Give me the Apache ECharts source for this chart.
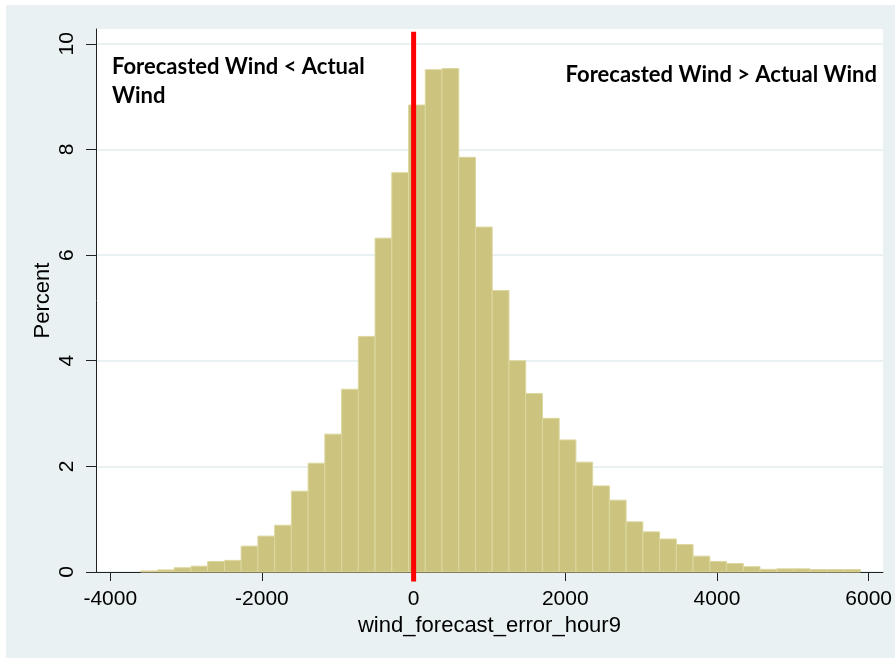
<!DOCTYPE html>
<html>
<head>
<meta charset="utf-8">
<script src="https://cdn.jsdelivr.net/npm/echarts@6/dist/echarts.min.js"></script>
<style>
  html, body { margin: 0; padding: 0; background: #ffffff; }
  #bg { position: absolute; left: 6px; top: 5px; width: 889px; height: 653px; background: #e9f1f3; }
  #chart { position: absolute; left: 0; top: 0; width: 895px; height: 658px; }
</style>
</head>
<body>
<div id="bg"></div>
<div id="chart"></div>
<script>
// Histogram of wind_forecast_error_hour9 (percent per bin)
const binStart = -3598;   // left edge of first bin
const binWidth = 220.7;   // bin width
const percent = [
  0.02, 0.04, 0.08, 0.11, 0.20, 0.22, 0.49, 0.68, 0.885, 1.53, 2.06, 2.61, 3.46, 4.46, 6.32, 7.56,
  8.84, 9.51, 9.53, 7.85, 6.53, 5.33, 4.00, 3.38, 2.91, 2.50, 2.08, 1.63, 1.36, 0.95, 0.76, 0.625,
  0.52, 0.30, 0.20, 0.16, 0.10, 0.05, 0.06, 0.06, 0.045, 0.045, 0.045
];
const xTickValues = [-4000, -2000, 0, 2000, 4000, 6000];
const yTickValues = [0, 2, 4, 6, 8, 10];
const refLineX = 0;
const leftNote = 'Forecasted Wind < Actual\nWind';
const rightNote = 'Forecasted Wind > Actual Wind';
const xTitle = 'wind_forecast_error_hour9';
const yTitle = 'Percent';

const binData = percent.map((p, i) => [binStart + i * binWidth, binStart + (i + 1) * binWidth, p]);

const chart = echarts.init(document.getElementById('chart'), null, { renderer: 'canvas' });
const axisColor = '#222222';
const labelFont = { fontFamily: 'Liberation Sans, Arial, sans-serif', fontSize: 21, color: '#000000' };
const plainNum = v => String(v);

chart.setOption({
  backgroundColor: 'transparent',
  animation: false,
  grid: { left: 96, right: 12, top: 29, bottom: 86, show: true, backgroundColor: '#ffffff', borderWidth: 0 },
  xAxis: {
    type: 'value', min: -4188, max: 6188,
    name: xTitle, nameLocation: 'middle', nameGap: 40,
    nameTextStyle: { fontFamily: 'Liberation Sans, Arial, sans-serif', fontSize: 22, color: '#000000' },
    axisLine: { show: true, onZero: false, lineStyle: { color: axisColor, width: 1 } },
    axisTick: { show: true, length: 9, customValues: xTickValues, lineStyle: { color: axisColor } },
    axisLabel: Object.assign({ customValues: xTickValues, margin: 17, formatter: plainNum }, labelFont),
    splitLine: { show: false }
  },
  yAxis: {
    type: 'value', min: 0, max: 10.28,
    name: yTitle, nameLocation: 'middle', nameGap: 42, nameMoveOverlap: false,
    nameTextStyle: { fontFamily: 'Liberation Sans, Arial, sans-serif', fontSize: 22, color: '#000000' },
    axisLine: { show: true, onZero: false, lineStyle: { color: axisColor, width: 1 } },
    axisTick: { show: true, length: 10, customValues: yTickValues, lineStyle: { color: axisColor } },
    axisLabel: Object.assign({ customValues: yTickValues, rotate: 90, margin: 18, formatter: plainNum }, labelFont),
    splitLine: { show: true, lineStyle: { color: '#e9f1f3', width: 2 } }
  },
  graphic: [
    { type: 'text', left: 112, top: 52, z: 100,
      style: { text: leftNote, fill: '#000000', font: 'bold 22px Lato, "Open Sans", sans-serif', lineHeight: 29 } },
    { type: 'text', right: 18, top: 64, z: 100,
      style: { text: rightNote, fill: '#000000', font: 'bold 22px Lato, "Open Sans", sans-serif' } }
  ],
  series: [
    {
      type: 'custom',
      data: binData,
      encode: { x: [0, 1], y: 2 },
      renderItem: function (params, api) {
        const p0 = api.coord([api.value(0), api.value(2)]);
        const p1 = api.coord([api.value(1), 0]);
        return {
          type: 'rect',
          shape: { x: p0[0], y: p0[1], width: p1[0] - p0[0], height: p1[1] - p0[1] },
          style: { fill: '#cbc37e', stroke: '#ddd79f', lineWidth: 1 }
        };
      },
      z: 2
    },
    {
      type: 'line',
      data: [[refLineX, -0.18], [refLineX, 10.23]],
      symbol: 'none',
      clip: false,
      lineStyle: { color: '#ff0000', width: 5 },
      z: 5
    }
  ]
});
</script>
</body>
</html>
